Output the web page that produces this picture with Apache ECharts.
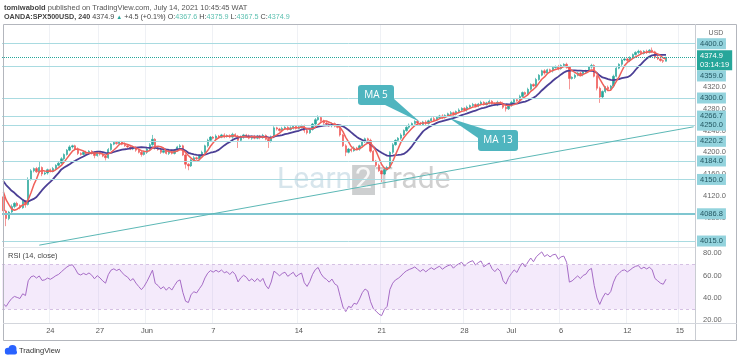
<!DOCTYPE html>
<html><head><meta charset="utf-8">
<script src="https://cdn.jsdelivr.net/npm/echarts@6/dist/echarts.min.js"></script>
<style>html,body{margin:0;padding:0;background:#fff}#c{width:740px;height:360px}</style>
</head><body><div id="c"></div>
<script>
// ---- data ----
const historyCloses = [4160, 4176, 4164, 4180, 4168, 4158, 4170, 4154, 4166, 4150, 4162, 4142, 4152, 4134, 4140, 4118];
const closes = [
 4092, 4078, 4090, 4100, 4106, 4102, 4098, 4110, 4104, 4150,
 4166, 4170, 4164, 4172, 4160, 4162, 4168, 4165, 4170, 4176,
 4180, 4188, 4196, 4204, 4210, 4212, 4206, 4198, 4196, 4200,
 4198, 4202, 4199, 4194, 4200, 4197, 4193, 4190, 4205, 4215,
 4218, 4216, 4219, 4215, 4212, 4210, 4206, 4209, 4204, 4200,
 4196, 4200, 4206, 4214, 4224, 4208, 4205, 4200, 4203, 4198,
 4202, 4198, 4204, 4210, 4212, 4195, 4178, 4175, 4186, 4190,
 4188, 4194, 4200, 4212, 4222, 4228, 4226, 4230, 4228, 4232,
 4229, 4231, 4228, 4233, 4230, 4222, 4228, 4232, 4230, 4226,
 4229, 4226, 4230, 4227, 4231, 4224, 4220, 4228, 4245, 4243,
 4240, 4244, 4246, 4242, 4245, 4248, 4244, 4247, 4249, 4240,
 4236, 4242, 4252, 4260, 4264, 4258, 4254, 4252, 4249, 4253,
 4248, 4246, 4232, 4212, 4200, 4206, 4203, 4208, 4206, 4212,
 4220, 4225, 4222, 4202, 4184, 4176, 4166, 4160, 4168, 4172,
 4200, 4214, 4222, 4226, 4232, 4240, 4246, 4250, 4253, 4257,
 4254, 4251, 4256, 4253, 4258, 4262, 4260, 4264, 4267, 4264,
 4268, 4271, 4273, 4270, 4275, 4278, 4281, 4278, 4283, 4286,
 4288, 4285, 4289, 4292, 4288, 4291, 4294, 4290, 4288, 4292,
 4290, 4283, 4280, 4287, 4292, 4297, 4295, 4303, 4310, 4307,
 4316, 4325, 4322, 4334, 4342, 4350, 4346, 4352, 4350, 4356,
 4358, 4354, 4360, 4362, 4357, 4336, 4338, 4342, 4346, 4343,
 4348, 4350, 4357, 4360, 4340, 4318, 4302, 4312, 4320, 4316,
 4322, 4340, 4355, 4362, 4370, 4372, 4369, 4374, 4380, 4384,
 4386, 4382, 4386, 4384, 4388, 4385, 4375, 4372, 4369, 4367.6,
 4374.9
];
const upperWicks = [
 3,2,2,4,2,3,2,3,2,4,  3,2,3,12,2,3,2,2,3,2,  2,3,2,2,3,2,2,3,2,2,  3,2,2,3,2,2,3,2,3,2,
 2,3,2,2,3,2,2,3,2,2,  3,2,2,3,8,2,3,2,2,3,   2,3,2,2,3,2,3,2,2,3,  2,2,3,2,3,2,2,3,2,2,
 3,2,2,3,2,2,3,2,2,3,  2,3,2,2,3,2,2,3,3,2,   2,3,2,2,3,2,2,3,2,2,  3,2,2,3,4,2,2,3,2,2,
 2,3,2,2,3,2,2,3,2,2,  3,2,2,3,2,2,3,2,2,3,   2,3,2,2,3,2,2,3,2,2,  3,2,2,3,2,2,3,2,2,3,
 2,2,3,2,2,3,2,2,3,2,  3,2,2,3,2,2,3,2,2,3,   2,3,2,2,3,2,2,3,2,2,  3,2,2,3,2,2,3,2,2,3,
 2,3,2,2,3,2,2,3,2,2,  3,2,2,3,2,2,3,2,2,3,   2,3,2,2,3,2,2,3,2,2,  3,2,2,3,2,5,2,3,2,2,
 1
];
const lowerWicks = [
 2,14,3,2,3,2,3,2,6,2, 2,3,2,2,4,2,3,2,2,3,   2,2,3,2,2,3,2,3,2,2,  3,2,3,5,2,3,2,5,2,2,
 2,2,3,2,2,3,2,2,3,2,  4,2,3,2,2,3,2,3,2,2,   3,2,2,3,2,2,8,8,2,3,  2,3,2,2,3,2,2,3,2,2,
 3,2,2,3,2,14,2,3,2,2, 3,2,2,3,2,2,12,2,2,3,  2,2,3,2,2,3,2,2,3,4,  3,2,2,3,2,2,3,2,2,3,
 2,2,3,2,7,2,3,2,2,3,  2,3,2,3,2,3,2,15,2,3,  2,3,2,2,3,2,2,3,2,2,  3,2,2,3,2,2,3,2,2,3,
 2,2,3,2,2,3,2,2,3,2,  3,2,2,3,2,2,3,2,2,3,   2,3,5,2,3,2,2,3,2,2,  3,2,2,3,2,2,3,2,2,3,
 2,3,2,2,3,20,2,3,2,2, 3,2,2,3,2,4,11,2,3,2,  2,3,2,2,3,2,2,3,2,2,  3,2,2,3,2,2,3,2,2,3,
 0.1
];
const levels = [4400, 4359, 4300, 4266.7, 4250, 4220.2, 4184, 4150, 4086.8, 4015];
const lastPrice = 4374.9;
const countdown = '03:14:19';
const priceTicks = [4040, 4080, 4120, 4160, 4200, 4240, 4280, 4320, 4360, 4400];
const rsiTicks = [20, 40, 60, 80];
const xLabels = ['24', '27', 'Jun', '7', '14', '21', '28', 'Jul', '6', '12', '15'];
const xLabelBar = [17, 35, 52, 76, 107, 137, 167, 184, 202, 226, 245];
const trendLine = [[13, 4029], [250, 4247]];
const barSlots = 251;

// ---- build ----
const all = historyCloses.concat(closes);
const H = historyCloses.length;
const candles = closes.map((c, i) => {
  const o = i === 0 ? historyCloses[H - 1] : closes[i - 1];
  return [o, c, Math.min(o, c) - lowerWicks[i], Math.max(o, c) + upperWicks[i]];
});
function sma(arr, n) {
  return arr.map((_, i) => {
    if (i < n - 1) return null;
    let s = 0; for (let k = i - n + 1; k <= i; k++) s += arr[k];
    return +(s / n).toFixed(2);
  });
}
function rsi(arr, n) {
  const out = new Array(arr.length).fill(null);
  let g = 0, l = 0;
  for (let i = 1; i <= n; i++) { const d = arr[i] - arr[i - 1]; if (d > 0) g += d; else l -= d; }
  g /= n; l /= n;
  out[n] = l === 0 ? 100 : 100 - 100 / (1 + g / l);
  for (let i = n + 1; i < arr.length; i++) {
    const d = arr[i] - arr[i - 1];
    g = (g * (n - 1) + Math.max(d, 0)) / n;
    l = (l * (n - 1) + Math.max(-d, 0)) / n;
    out[i] = l === 0 ? 100 : 100 - 100 / (1 + g / l);
  }
  return out;
}
const ma5 = sma(all, 5).slice(H);
const ma13 = sma(all, 13).slice(H);
const rsi14 = rsi(all, 14).slice(H).map(v => v == null ? null : +v.toFixed(2));

const cats = Array.from({ length: barSlots }, (_, i) => String(i));
const labelAt = {}; xLabelBar.forEach((k, j) => labelAt[k] = xLabels[j]);
const isTick = (i) => labelAt[i] !== undefined;

const yMin = 4025.6, yMax = 4436.3;
const FONT = '"Liberation Sans", Arial, sans-serif';

const levelLines = levels.map(v => ({
  yAxis: Math.max(v, yMin + 11),
  lineStyle: { color: v === 4086.8 ? '#7fc6d0' : '#a9dbe1', width: v === 4086.8 ? 2 : 1, type: 'solid' },
  label: { show: true, position: 'end', distance: 2, formatter: v.toFixed(1),
    offset: [0, v === 4359 ? 10 : 0],
    backgroundColor: '#93d3dd', color: '#245863', fontSize: 7.5, fontFamily: FONT, padding: [2, 3, 1, 3] }
}));
const priceLine = {
  yAxis: lastPrice,
  lineStyle: { color: '#26a69a', width: 1, type: 'dotted' },
  label: { show: true, position: 'end', distance: 2, formatter: lastPrice.toFixed(1) + '\n' + countdown,
    backgroundColor: '#26a69a', color: '#fff', fontSize: 7.5, lineHeight: 9, fontFamily: FONT, padding: [1, 3, 1, 3], offset: [0, 3] }
};
const trend = [
  { coord: trendLine[0], lineStyle: { color: '#5cb8b6', width: 1, type: 'solid' }, label: { show: false } },
  { coord: trendLine[1] }
];

const chart = echarts.init(document.getElementById('c'), null, { renderer: 'canvas' });
chart.setOption({
  animation: false,
  backgroundColor: '#fff',
  textStyle: { fontFamily: FONT },
  grid: [
    { left: 2, right: 45, top: 24, height: 223 },
    { left: 2, right: 45, top: 247, height: 76 }
  ],
  xAxis: [
    { type: 'category', gridIndex: 0, data: cats, boundaryGap: true,
      axisLine: { show: false }, axisTick: { show: false }, axisLabel: { show: false },
      splitLine: { show: true, interval: (i) => isTick(i), lineStyle: { color: '#eff1f5' } } },
    { type: 'category', gridIndex: 1, data: cats, boundaryGap: true,
      axisLine: { show: false }, axisTick: { show: false },
      axisLabel: { show: true, interval: (i) => isTick(i), formatter: (v, i) => labelAt[i] || '',
        color: '#555', fontSize: 7.5, margin: 4 },
      splitLine: { show: true, interval: (i) => isTick(i), lineStyle: { color: '#eff1f5' } } }
  ],
  yAxis: [
    { type: 'value', gridIndex: 0, position: 'right', min: yMin, max: yMax,
      axisLine: { show: false }, axisTick: { show: false }, splitLine: { show: false },
      axisLabel: { customValues: priceTicks, formatter: v => v.toFixed(1), color: '#666', fontSize: 7.5, margin: 8 } },
    { type: 'value', gridIndex: 1, position: 'right', min: 17.6, max: 85.7,
      axisLine: { show: false }, axisTick: { show: false }, splitLine: { show: false },
      axisLabel: { customValues: rsiTicks, formatter: v => v.toFixed(2), color: '#666', fontSize: 7.5, margin: 8 } }
  ],
  series: [
    { type: 'candlestick', xAxisIndex: 0, yAxisIndex: 0, data: candles, barWidth: 1.8,
      itemStyle: { color: '#26a69a', color0: '#ef5350', borderColor: '#26a69a', borderColor0: '#ef5350', borderWidth: 0.6 } },
    { type: 'line', name: 'MA 13', xAxisIndex: 0, yAxisIndex: 0, data: ma13, symbol: 'none', smooth: false,
      lineStyle: { color: '#4b3f95', width: 1.8 } },
    { type: 'line', name: 'MA 5', xAxisIndex: 0, yAxisIndex: 0, data: ma5, symbol: 'none',
      lineStyle: { color: '#f0615a', width: 1.5 } },
    { type: 'line', name: 'levels', xAxisIndex: 0, yAxisIndex: 0, data: [], clip: false, z: 1,
      markLine: { silent: true, symbol: ['none', 'none'], animation: false,
        data: levelLines.concat([priceLine, trend]) } },
    { type: 'line', name: 'RSI', xAxisIndex: 1, yAxisIndex: 1, data: rsi14, symbol: 'none',
      lineStyle: { color: '#a66cc6', width: 1 },
      markArea: { silent: true, itemStyle: { color: 'rgba(206,160,236,0.22)' }, data: [[{ yAxis: 30 }, { yAxis: 70 }]] },
      markLine: { silent: true, symbol: ['none', 'none'], label: { show: false },
        lineStyle: { color: '#d5c1e3', type: [3, 3], width: 1 }, data: [{ yAxis: 70 }, { yAxis: 30 }] } }
  ],
  graphic: [
    { type: 'text', x: 4, y: 8, z: 10, style: { text: '{b|tomiwabold} published on TradingView.com, July 14, 2021 10:45:45 WAT',
      fontSize: 7.5, fontFamily: FONT, fill: '#555', verticalAlign: 'middle', rich: { b: { fontWeight: 'bold', fill: '#444', fontSize: 7.5 } } } },
    { type: 'text', x: 4, y: 17, z: 10, style: {
      text: '{b|OANDA:SPX500USD, 240} {n|4374.9} {g|▲} {n|+4.5 (+0.1%)} {n|O:}{v|4367.6} {n|H:}{v|4375.9} {n|L:}{v|4367.5} {n|C:}{v|4374.9}',
      fontSize: 7.2, fontFamily: FONT, fill: '#444', verticalAlign: 'middle',
      rich: { b: { fontWeight: 'bold', fill: '#444', fontSize: 7.2 }, n: { fill: '#444', fontSize: 7.2 },
              g: { fill: '#26a69a', fontSize: 6 }, v: { fill: '#5cc0b0', fontSize: 7.2 } } } },
    // watermark
    { type: 'text', x: 277, y: 180, z: 1, style: { text: '{a|Learn}{b|2}{c|Trade}', verticalAlign: 'middle',
      rich: { a: { fill: 'rgba(140,180,200,0.35)', fontSize: 30, fontFamily: 'Roboto' },
              b: { fill: 'rgba(255,255,255,0.85)', backgroundColor: 'rgba(100,105,110,0.32)', fontSize: 30, fontFamily: 'Roboto', padding: [0, 3, 0, 3] },
              c: { fill: 'rgba(100,100,100,0.3)', fontSize: 30, fontFamily: 'Roboto' } } } },
    // frame
    { type: 'rect', z: 50, silent: true, shape: { x: 3.5, y: 24.5, width: 733, height: 316 }, style: { fill: 'none', stroke: '#b3b6bd', lineWidth: 1 } },
    { type: 'line', z: 50, silent: true, shape: { x1: 695.5, y1: 24, x2: 695.5, y2: 340 }, style: { stroke: '#c9ccd2', lineWidth: 1 } },
    { type: 'line', z: 50, silent: true, shape: { x1: 3, y1: 247.5, x2: 695, y2: 247.5 }, style: { stroke: '#e3e5ea', lineWidth: 1 } },
    { type: 'line', z: 50, silent: true, shape: { x1: 3, y1: 323.5, x2: 737, y2: 323.5 }, style: { stroke: '#d3d6dc', lineWidth: 1 } },
    { type: 'text', x: 716, y: 33, z: 51, style: { text: 'USD', fontSize: 7, fontFamily: FONT, fill: '#666', align: 'center', verticalAlign: 'middle' } },
    { type: 'text', x: 8, y: 256, z: 51, style: { text: 'RSI (14, close)', fontSize: 7.5, fontFamily: FONT, fill: '#444', verticalAlign: 'middle' } },
    // callouts
    { type: 'polygon', z: 60, shape: { points: [[383, 104], [393, 98], [420, 122]] }, style: { fill: '#4fb5bf' } },
    { type: 'rect', z: 60, shape: { x: 358, y: 85, width: 36, height: 20, r: 3 }, style: { fill: '#4fb5bf' } },
    { type: 'text', z: 61, x: 376, y: 95.5, style: { text: 'MA 5', fontSize: 10, fontFamily: '"Open Sans", sans-serif', fill: '#fff', align: 'center', verticalAlign: 'middle' } },
    { type: 'polygon', z: 60, shape: { points: [[449, 118], [478, 138], [487, 130]] }, style: { fill: '#4fb5bf' } },
    { type: 'rect', z: 60, shape: { x: 478, y: 130, width: 40, height: 21, r: 3 }, style: { fill: '#4fb5bf' } },
    { type: 'text', z: 61, x: 498, y: 140.5, style: { text: 'MA 13', fontSize: 10, fontFamily: '"Open Sans", sans-serif', fill: '#fff', align: 'center', verticalAlign: 'middle' } },
    // TradingView logo
    { type: 'circle', z: 60, shape: { cx: 8, cy: 351, r: 3.2 }, style: { fill: '#2962ff' } },
    { type: 'circle', z: 60, shape: { cx: 12.5, cy: 349, r: 4 }, style: { fill: '#2962ff' } },
    { type: 'rect', z: 60, shape: { x: 5, y: 350, width: 12, height: 4.5, r: 2 }, style: { fill: '#2962ff' } },
    { type: 'text', z: 60, x: 19, y: 351, style: { text: 'TradingView', fontSize: 7.5, fontFamily: FONT, fill: '#333', verticalAlign: 'middle' } }
  ]
});
</script>
</body></html>
